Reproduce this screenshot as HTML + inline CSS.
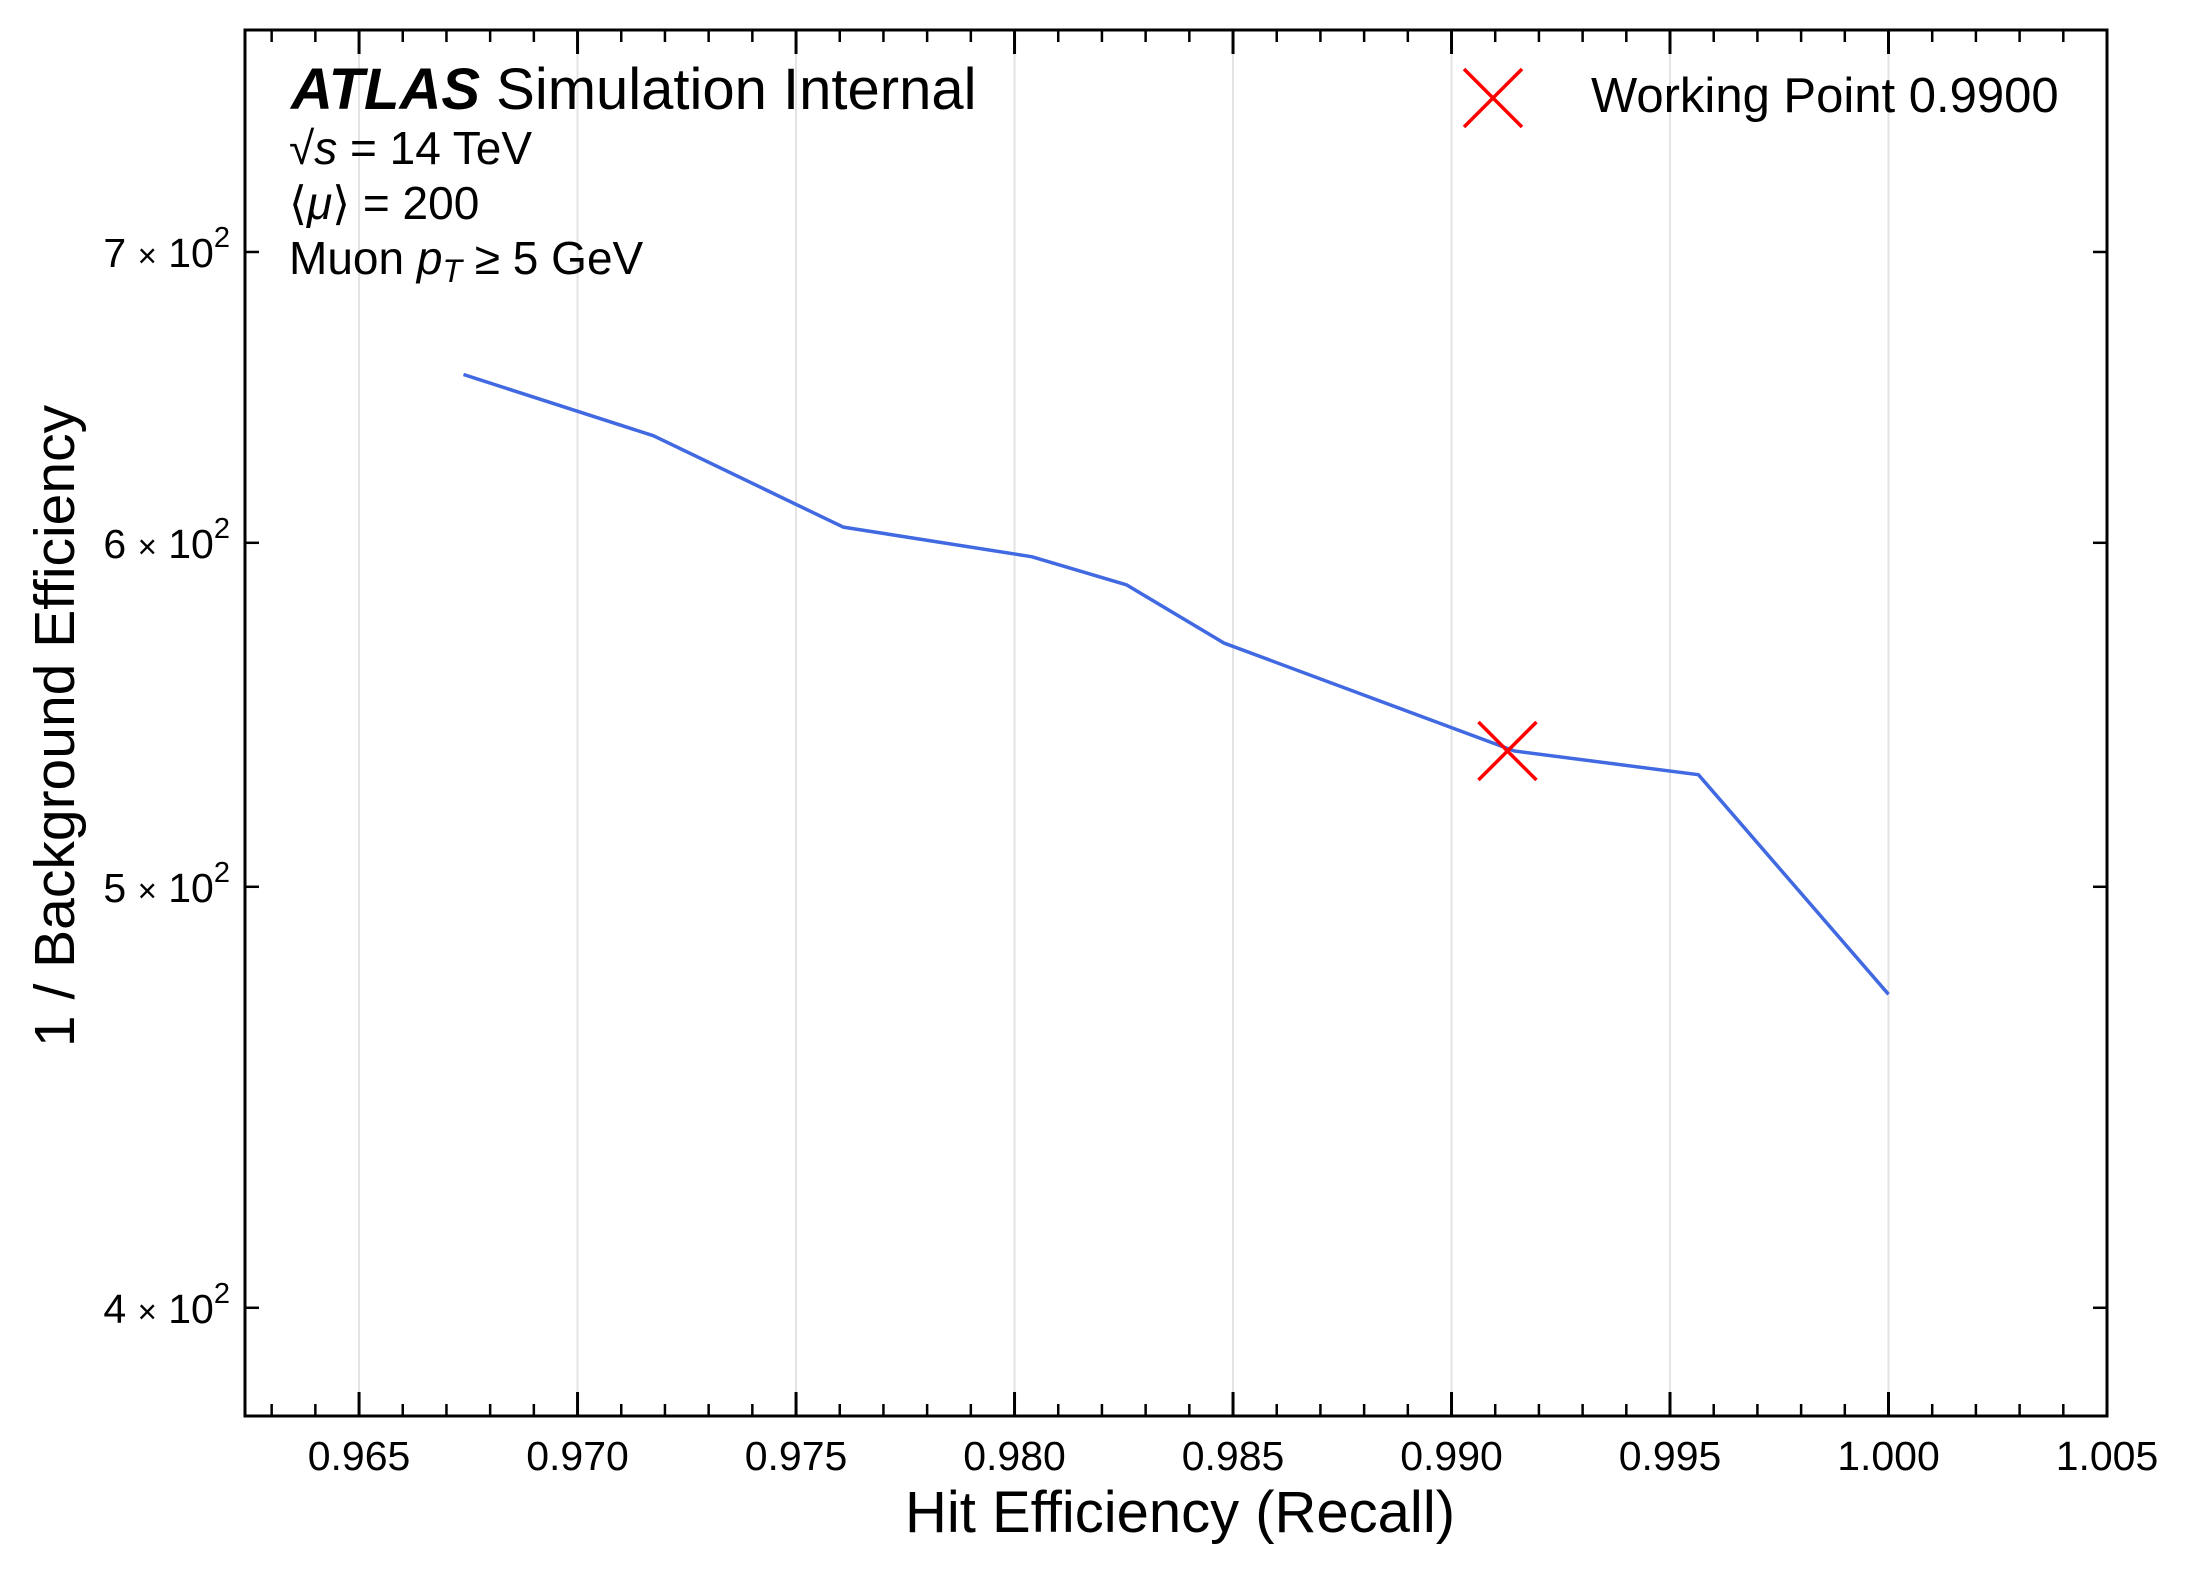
<!DOCTYPE html>
<html><head><meta charset="utf-8">
<style>
html,body{margin:0;padding:0;background:#fff;}
svg{display:block;font-family:"Liberation Sans",Arial,sans-serif;}
</style></head>
<body>
<svg id="chart" width="2186" height="1573" viewBox="0 0 2186 1573" xmlns="http://www.w3.org/2000/svg">
<rect x="0" y="0" width="2186" height="1573" fill="#fff"/>
<g id="grid"></g>
<g id="series"></g>
<g id="axes"></g>
<rect x="245" y="30" width="1862" height="1386" fill="none" stroke="#000" stroke-width="3"/>
<text x="1180" y="1532" font-size="58" text-anchor="middle">Hit Efficiency (Recall)</text>
<text transform="translate(74,726) rotate(-90)" font-size="57" text-anchor="middle">1 / Background Efficiency</text>
<g>
<text x="291" y="109" font-size="58"><tspan font-weight="bold" font-style="italic">ATLAS</tspan> Simulation Internal</text>
<text x="289" y="164" font-size="46">√<tspan font-style="italic">s</tspan> = 14 TeV</text>
<text x="289" y="219" font-size="46">⟨<tspan font-style="italic">μ</tspan>⟩ = 200</text>
<text x="289" y="274" font-size="46">Muon <tspan font-style="italic">p</tspan><tspan font-style="italic" font-size="32" dy="8">T</tspan><tspan dy="-8"> ≥ 5 GeV</tspan></text>
</g>
<g>
<g stroke="#ff0000" stroke-width="3.5">
<line x1="1464" y1="69" x2="1522" y2="127"/><line x1="1464" y1="127" x2="1522" y2="69"/>
</g>
<text x="1591" y="112" font-size="49">Working Point 0.9900</text>
</g>
</svg>
<script>
const xs = [0.96739, 0.97174, 0.97608, 0.98039, 0.98256, 0.98480, 0.99144, 0.99565, 1.00000];
const ys = [656, 635, 605, 595.6, 586.8, 568.9, 537.3, 530.6, 472.3];
const wpX = [0.99128];
const wpY = [537.3];
const xTicks = [0.965, 0.970, 0.975, 0.980, 0.985, 0.990, 0.995, 1.000, 1.005];
const xTickLabels = ["0.965","0.970","0.975","0.980","0.985","0.990","0.995","1.000","1.005"];
const yTicks = [400, 500, 600, 700];
const yTickMant = ["4","5","6","7"];

const L=245,R=2107,T=30,B=1416;
const XMIN=0.96239,XMAX=1.005,YMIN=377.7,YMAX=787.4;
const sx=v=>L+(v-XMIN)/(XMAX-XMIN)*(R-L);
const sy=v=>B-(Math.log(v)-Math.log(YMIN))/(Math.log(YMAX)-Math.log(YMIN))*(B-T);
const NS="http://www.w3.org/2000/svg";
function mk(tag,attrs,parent){const e=document.createElementNS(NS,tag);for(const k in attrs)e.setAttribute(k,attrs[k]);parent.appendChild(e);return e;}
const grid=document.getElementById('grid'),axes=document.getElementById('axes'),series=document.getElementById('series');

xTicks.forEach((t,i)=>{
  const x=sx(t);
  if(i<xTicks.length-1){
    const g=mk('line',{x1:x,x2:x,y1:T,y2:B,stroke:'#e3e3e3','stroke-width':2},grid);
    
    
  }
  const tb=mk('line',{x1:x,x2:x,y1:B,y2:B-24,stroke:'#000','stroke-width':3},axes);
  
  
  const tt=mk('line',{x1:x,x2:x,y1:T,y2:T+24,stroke:'#000','stroke-width':3},axes);
  
  
  const lb=mk('text',{x:x,y:1470,'font-size':41,'text-anchor':'middle'},axes);
  lb.textContent=xTickLabels[i];
  
  
});
for(let k=0;k<=43;k++){
  const v=0.963+k*0.001;
  if(v>XMAX+1e-9)break;
  if(Math.abs(Math.round(v*200)-v*200)<1e-6)continue;
  const x=sx(v);
  const m1=mk('line',{x1:x,x2:x,y1:B,y2:B-12,stroke:'#000','stroke-width':2.5},axes);
  
  
  const m2=mk('line',{x1:x,x2:x,y1:T,y2:T+12,stroke:'#000','stroke-width':2.5},axes);
  
  
}
yTicks.forEach((t,i)=>{
  const y=sy(t);
  const a=mk('line',{x1:L,x2:L+14,y1:y,y2:y,stroke:'#000','stroke-width':2.5},axes);
  
  
  const b=mk('line',{x1:R,x2:R-14,y1:y,y2:y,stroke:'#000','stroke-width':2.5},axes);
  
  
  const lb=mk('text',{x:230,y:y+15,'font-size':41,'text-anchor':'end'},axes);
  
  
  lb.innerHTML=yTickMant[i]+' <tspan font-size="33">×</tspan> 10<tspan font-size="29" dy="-20">2</tspan>';
});

const pts=xs.map((x,i)=>sx(x).toFixed(1)+','+sy(ys[i]).toFixed(1)).join(' ');
const line=mk('polyline',{points:pts,fill:'none',stroke:'#4169e1','stroke-width':3.5,'stroke-linejoin':'round'},series);



wpX.forEach((x,i)=>{
  const cx=sx(x),cy=sy(wpY[i]),h=29;
  const g=mk('g',{stroke:'#ff0000','stroke-width':3.5},series);
  
  
  mk('line',{x1:cx-h,y1:cy-h,x2:cx+h,y2:cy+h},g);
  mk('line',{x1:cx-h,y1:cy+h,x2:cx+h,y2:cy-h},g);
});
</script>
</body></html>
